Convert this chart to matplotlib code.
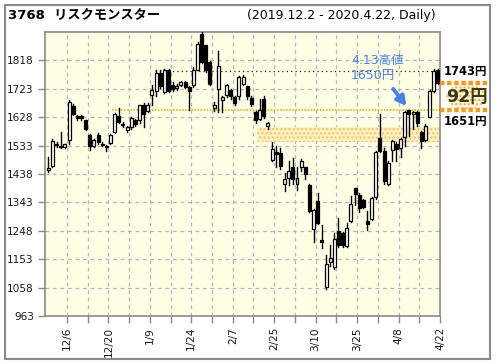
import matplotlib
matplotlib.use("Agg")
import matplotlib.pyplot as plt
from matplotlib.patches import Rectangle, Ellipse
from matplotlib.lines import Line2D
import numpy as np

# ---------------- data ----------------
opens  = [1450,1465,1538,1530,1529,1551,1664,1631,1632,1618,
          1570,1531,1570,1540,1533,1542,1578,1632,1606,1584,
          1595,1618,1618,1668,1648,1701,1714,1776,1712,1787,
          1735,1725,1737,1745,1729,1737,1787,1907,1868,1813,
          1660,1724,1684,1701,1718,1695,1698,1740,1731,1691,
          1645,1623,1690,1598,1486,1513,1509,1406,1426,1460,
          1404,1460,1460,1401,1253,1347,1217,1061,1142,1128,
          1248,1239,1198,1281,1390,1367,1350,1282,1289,1361,
          1559,1515,1406,1517,1540,1526,1562,1651,1638,1645,
          1578,1551,1630,1716,1785]
closes = [1458,1547,1534,1527,1537,1680,1640,1626,1625,1588,
          1530,1553,1545,1536,1529,1570,1638,1612,1601,1595,
          1626,1604,1668,1640,1668,1720,1776,1733,1787,1715,
          1722,1733,1745,1729,1715,1787,1874,1813,1785,1740,
          1668,1799,1695,1735,1698,1675,1763,1763,1698,1672,
          1620,1651,1631,1607,1523,1506,1464,1420,1447,1420,
          1426,1481,1437,1315,1317,1275,1209,1136,1156,1219,
          1200,1200,1259,1339,1370,1323,1328,1270,1359,1512,
          1515,1415,1475,1548,1520,1556,1645,1638,1645,1607,
          1549,1600,1716,1783,1743]
highs  = [1495,1556,1545,1578,1540,1684,1672,1634,1636,1620,
          1572,1556,1575,1546,1536,1573,1641,1658,1612,1597,
          1630,1622,1670,1675,1676,1735,1785,1785,1790,1790,
          1745,1740,1750,1750,1733,1795,1880,1913,1870,1815,
          1680,1851,1700,1740,1722,1700,1767,1768,1733,1700,
          1650,1690,1700,1612,1545,1530,1525,1440,1480,1490,
          1460,1487,1462,1403,1320,1373,1267,1167,1200,1240,
          1290,1245,1275,1365,1392,1373,1355,1315,1362,1515,
          1640,1525,1480,1552,1545,1560,1648,1651,1648,1648,
          1582,1605,1720,1790,1790]
lows   = [1445,1460,1528,1525,1525,1540,1636,1618,1620,1585,
          1517,1528,1538,1530,1516,1540,1575,1610,1596,1580,
          1590,1600,1610,1595,1645,1668,1700,1725,1710,1712,
          1715,1720,1733,1725,1651,1730,1785,1810,1780,1735,
          1650,1645,1645,1695,1690,1670,1690,1735,1690,1665,
          1610,1620,1625,1590,1480,1460,1455,1382,1400,1406,
          1386,1449,1420,1312,1211,1270,1190,1052,1130,1120,
          1195,1195,1195,1278,1335,1310,1325,1250,1285,1355,
          1510,1405,1400,1480,1480,1495,1530,1565,1590,1600,
          1525,1548,1628,1712,1740]

tick_labels = ["12/6", "12/20", "1/9", "1/24", "2/7", "2/25", "3/10", "3/25", "4/8", "4/22"]
tick_index = [4, 14, 24, 34, 44, 54, 64, 74, 84, 94]
y_ticks = [963, 1058, 1153, 1248, 1343, 1438, 1533, 1628, 1723, 1818]

last_close = 1743
high_4_13 = 1651
prev_high_line = 1783
gap_low, gap_high = 1545, 1595
diff = last_close - high_4_13

# ---------------- figure ----------------
W, H = 496, 364
fig = plt.figure(figsize=(W / 100, H / 100), dpi=100)
fig.patch.set_facecolor("white")

def fx(px):
    return px / W

def fy(py):
    return 1 - py / H

# outer border
fig.patches.append(Rectangle((fx(5), fy(359)), fx(485), (354) / H, transform=fig.transFigure,
                             fill=False, edgecolor="#8a8a8a", linewidth=1.5))

ax = fig.add_axes([fx(45), fy(316), 395 / W, 284 / H])
ax.set_facecolor("#FFFFE6")

n = len(opens)
x = np.arange(n)
ax.set_xlim(-0.8, 94.5)
ax.set_ylim(963, 1913)

# grid
for g in np.arange(4.5, 94, 5):
    ax.axvline(g, color="#b5b5b5", lw=0.9, ls=(0, (3, 3)), zorder=0)
for yt in y_ticks[1:]:
    ax.axhline(yt, color="#b5b5b5", lw=0.9, ls=(0, (3, 3)), zorder=0)

# gap zone
ax.add_patch(Rectangle((50.4, gap_low), 94.5 - 50.4, gap_high - gap_low,
                       facecolor="#FDF0C4", edgecolor="#F2C45A", hatch="....",
                       linewidth=0, zorder=1))

# reference lines
ax.plot([15.4, 94.5], [high_4_13, high_4_13], color="#D9A900", lw=1.1,
        ls=(0, (1, 1)), zorder=2)
ax.plot([25.8, 94.5], [prev_high_line, prev_high_line], color="#222222", lw=0.9,
        ls=(0, (1, 2.5)), zorder=2)

# candles
bw = 0.72
for i in range(n):
    o, c, h, l = opens[i], closes[i], highs[i], lows[i]
    ax.plot([x[i], x[i]], [l, h], color="black", lw=1.0, zorder=3)
    bottom = min(o, c)
    height = max(abs(c - o), 2.5)
    fc = "white" if c >= o else "black"
    ax.add_patch(Rectangle((x[i] - bw / 2, bottom), bw, height, facecolor=fc,
                           edgecolor="black", linewidth=0.9, zorder=4))

# axes styling
for s in ax.spines.values():
    s.set_color("#8a8a8a")
    s.set_linewidth(1.2)
ax.set_yticks(y_ticks)
ax.set_yticklabels([str(v) for v in y_ticks], fontsize=7.6, color="#1a1a1a",
                   family="DejaVu Sans")
ax.set_xticks(np.arange(4.5, 95, 5), minor=True)
ax.set_xticks([t + 0.5 for t in tick_index])
ax.set_xticklabels(tick_labels, rotation=90, fontsize=7.6, color="#1a1a1a",
                   family="DejaVu Sans")
ax.tick_params(axis="x", which="both", direction="out", length=5, color="#8a8a8a",
               width=1, pad=3)
ax.tick_params(axis="y", direction="out", length=5, color="#8a8a8a", width=1, pad=3)

# title
fig.text(fx(8), fy(16), "3768  リスクモンスター", fontsize=9.5, fontweight="bold",
         family=["DejaVu Sans", "Noto Sans CJK JP"], va="center", ha="left")
fig.text(fx(247), fy(16), "(2019.12.2 - 2020.4.22, Daily)", fontsize=9,
         family="DejaVu Sans", va="center", ha="left")

# annotation in plot
blue = "#4A80E8"
ax.text(73.0, 1838, "4.13高値\n1650円", color=blue, fontsize=9,
        family=["DejaVu Sans", "Noto Sans CJK JP"], va="top", ha="left",
        linespacing=1.15, zorder=6)
ax.annotate("", xy=(86.8, 1658), xytext=(82.8, 1730),
            arrowprops=dict(arrowstyle="-|>,head_length=0.55,head_width=0.3",
                            color=blue, lw=2.8), zorder=6)

# right-hand labels
orange = "#F39A1C"
for val in (last_close, high_4_13):
    yy = ax.transData.transform((0, val))[1]
    yfig = yy / (H)
    fig.lines.append(Line2D([fx(440), fx(488)], [yfig, yfig], transform=fig.transFigure,
                            color=orange, lw=3.2, ls=(0, (1, 0.6)), solid_capstyle="butt"))
yc = (ax.transData.transform((0, last_close))[1] + ax.transData.transform((0, high_4_13))[1]) / 2 / H
fig.patches.append(Ellipse((fx(466), yc), 40 / W, 26 / H, transform=fig.transFigure,
                           facecolor="#FFF4DC", edgecolor="#F5B040", hatch="....",
                           linewidth=0))
y1743 = ax.transData.transform((0, last_close))[1] / H
y1651 = ax.transData.transform((0, high_4_13))[1] / H
fig.text(fx(444), y1743 + 11 / H, f"{last_close}円", fontsize=8.3, fontweight="bold",
         family=["DejaVu Sans", "Noto Sans CJK JP"], va="center", ha="left")
fig.text(fx(444), y1651 - 11 / H, f"{high_4_13}円", fontsize=8.3, fontweight="bold",
         family=["DejaVu Sans", "Noto Sans CJK JP"], va="center", ha="left")
fig.text(fx(467), yc, f"{diff}円", fontsize=12.5, fontweight="bold", color="#3a3a10",
         family=["DejaVu Sans", "Noto Sans CJK JP"], va="center", ha="center")

fig.savefig("out.png", dpi=100)
